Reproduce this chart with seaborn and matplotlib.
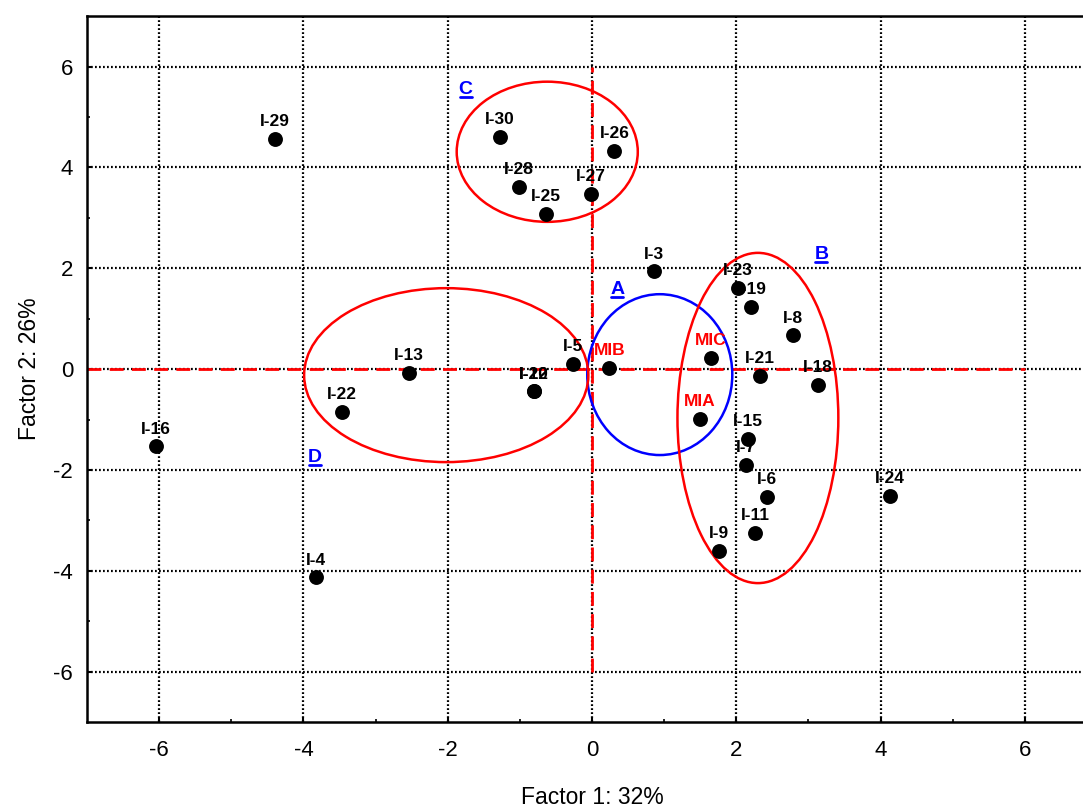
import matplotlib
matplotlib.use("Agg")
import matplotlib.pyplot as plt
from matplotlib.patches import Ellipse
from matplotlib.lines import Line2D
import seaborn as sns
import pandas as pd

# ---- data ----
names = ["I-29", "I-30", "I-26", "I-28", "I-27", "I-25", "I-3", "I-23", "I-19", "I-8",
         "I-21", "I-18", "I-5", "I-20", "I-12", "I-13", "I-22", "I-16", "I-15", "I-7",
         "I-6", "I-24", "I-11", "I-9", "I-4"]
factor1 = [-4.40, -1.28, 0.31, -1.01, -0.01, -0.64, 0.86, 2.02, 2.21, 2.79,
           2.33, 3.13, -0.26, -0.80, -0.80, -2.54, -3.47, -6.05, 2.16, 2.14,
           2.43, 4.13, 2.26, 1.76, -3.83]
factor2 = [4.56, 4.60, 4.33, 3.61, 3.47, 3.08, 1.94, 1.61, 1.23, 0.67,
           -0.14, -0.32, 0.10, -0.44, -0.44, -0.08, -0.85, -1.53, -1.39, -1.90,
           -2.54, -2.52, -3.25, -3.61, -4.13]

mi_names = ["MIB", "MIC", "MIA"]
mi_f1 = [0.24, 1.65, 1.50]
mi_f2 = [0.02, 0.22, -0.99]

groups = ["A", "B", "C", "D"]
group_cx = [0.94, 2.30, -0.62, -2.02]
group_cy = [-0.11, -0.97, 4.31, -0.12]
group_w = [2.01, 2.23, 2.51, 3.94]
group_h = [3.19, 6.55, 2.78, 3.45]
group_color = ["#0000ff", "#ff0000", "#ff0000", "#ff0000"]
group_lx = [0.35, 3.18, -1.75, -3.84]
group_ly = [1.57, 2.27, 5.55, -1.76]

ticks = [-6, -4, -2, 0, 2, 4, 6]
minor_ticks = [-5, -3, -1, 1, 3, 5]

df = pd.DataFrame({"f1": factor1, "f2": factor2, "name": names})
mi = pd.DataFrame({"f1": mi_f1, "f2": mi_f2, "name": mi_names})

sns.set_style("white")
plt.rcParams["font.family"] = ["Liberation Sans", "DejaVu Sans"]
plt.rcParams["axes.unicode_minus"] = False
plt.rcParams["text.color"] = "black"
plt.rcParams["axes.labelcolor"] = "black"
plt.rcParams["xtick.color"] = "black"
plt.rcParams["ytick.color"] = "black"

fig = plt.figure(figsize=(10.83, 8.07), dpi=100)
ax = fig.add_axes([0.0803, 0.1053, 0.9326, 0.8747])

# grid
for t in ticks:
    ax.axvline(t, color="black", lw=1.6, ls=(0, (0.8, 1.0)), zorder=1)
    ax.axhline(t, color="black", lw=1.6, ls=(0, (0.8, 1.0)), zorder=1)

# red dashed zero lines
ax.plot([-7, 6], [0, 0], color="#ff0000", lw=2, ls=(0, (5, 3)), zorder=2)
ax.plot([0, 0], [-6, 6], color="#ff0000", lw=2, ls=(0, (5, 3)), zorder=2)

# ellipses
for cx, cy, w, h, c in zip(group_cx, group_cy, group_w, group_h, group_color):
    ax.add_patch(Ellipse((cx, cy), w, h, fill=False, edgecolor=c, lw=1.8, zorder=3))

sns.scatterplot(data=df, x="f1", y="f2", color="black", s=115, edgecolor="black",
                linewidth=0, ax=ax, zorder=4, legend=False)
sns.scatterplot(data=mi, x="f1", y="f2", color="black", s=115, edgecolor="black",
                linewidth=0, ax=ax, zorder=4, legend=False)

for x, y, n in zip(factor1, factor2, names):
    ax.annotate(n, (x, y), xytext=(0, 7), textcoords="offset points", ha="center",
                va="bottom", fontsize=12.5, fontweight="bold",
                color="black", zorder=5)
for x, y, n in zip(mi_f1, mi_f2, mi_names):
    ax.annotate(n, (x, y), xytext=(0, 7), textcoords="offset points", ha="center",
                va="bottom", fontsize=12.5, fontweight="bold",
                color="#ff0000", zorder=5)

group_texts = []
for g, x, y in zip(groups, group_lx, group_ly):
    group_texts.append(ax.text(x, y, g, color="#0000ff", fontsize=14, fontweight="bold",
                               ha="center", va="center", zorder=5))

ax.set_xlim(-7, 7)
ax.set_ylim(-7, 7)
ax.set_xticks(ticks)
ax.set_yticks(ticks)
ax.set_xticks(minor_ticks, minor=True)
ax.set_yticks(minor_ticks, minor=True)
ax.tick_params(which="major", direction="in", length=3, width=1.5, labelsize=16,
               bottom=True, left=True, pad=13, colors="black")
ax.tick_params(which="minor", direction="in", length=2, width=1.2, bottom=True, left=True)
ax.tick_params(axis="y", pad=10)
for s in ax.spines.values():
    s.set_color("black")
    s.set_linewidth(1.8)
ax.spines["right"].set_visible(False)

ax.set_xlabel("Factor 1: 32%", fontsize=16.5, labelpad=18)
ax.set_ylabel("Factor 2: 26%", fontsize=16.5, labelpad=9)

# underline the group letters, measured from the rendered text
fig.canvas.draw()
for t in group_texts:
    bb = t.get_window_extent()
    yline = bb.y0 + 1
    fig.add_artist(Line2D([bb.x0 + 1, bb.x1 - 1], [yline, yline], transform=None,
                          color="#0000ff", lw=2, zorder=6))

fig.savefig("out.png", dpi=100)
